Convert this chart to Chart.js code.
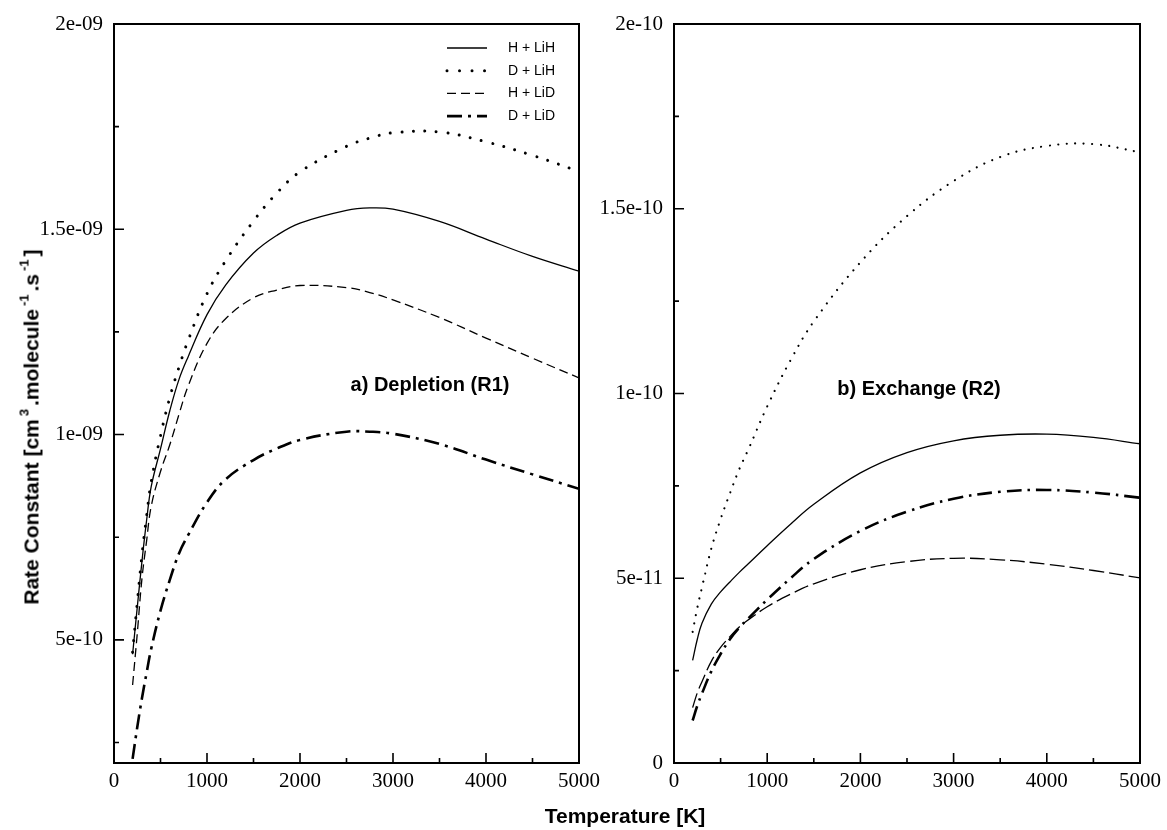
<!DOCTYPE html>
<html>
<head>
<meta charset="utf-8">
<script src="https://cdn.jsdelivr.net/npm/chart.js@4.4.1/dist/chart.umd.min.js"></script>
<style>
  html, body { margin: 0; padding: 0; background: #fff; }
  body { width: 1167px; height: 830px; position: relative; overflow: hidden; }
  canvas { position: absolute; top: 0; }
  #depletion { left: 0; }
  #exchange { left: 584px; }
  .txt {
    position: absolute;
    font-family: "Liberation Sans", Arial, sans-serif;
    font-weight: bold;
    color: #000;
    white-space: nowrap;
    line-height: 1;
    transform: translate(-50%, -50%);
  }
  .ytitle { font-size: 21px; transform: translate(-50%, -50%) rotate(-90deg); }
  .ytitle sup { font-size: 0.62em; vertical-align: 0.75em; line-height: 0; margin: 0 3px; }
  .xtitle { font-size: 21px; }
  .panel { font-size: 20px; }
</style>
</head>
<body>
<canvas id="depletion" width="606" height="830"></canvas>
<canvas id="exchange" width="583" height="830"></canvas>

<div class="txt ytitle" style="left:31px; top:427px;">Rate Constant [cm<sup>3</sup>.molecule<sup>-1</sup>.s<sup>-1</sup>]</div>
<div class="txt xtitle" style="left:625px; top:815px;">Temperature [K]</div>
<div class="txt panel" style="left:430px; top:384px;">a) Depletion (R1)</div>
<div class="txt panel" style="left:919px; top:388px;">b) Exchange (R2)</div>

<script>
// Temperatures (K)
const depTemps = [200, 250, 300, 350, 400, 500, 600, 700, 800, 1000, 1200, 1500, 1750, 2000, 2500, 2750, 3000, 3500, 4000, 4500, 5000];
const exTemps = [200, 250, 300, 400, 500, 600, 700, 800, 1000, 1250, 1500, 2000, 2500, 3000, 3500, 4000, 4500, 5000];

// (R1) depletion rate constants, in 1e-9 cm3 molecule-1 s-1
const depHLiH = [0.465, 0.579, 0.69, 0.79, 0.873, 0.965, 1.058, 1.135, 1.191, 1.292, 1.364, 1.442, 1.485, 1.515, 1.546, 1.552, 1.549, 1.519, 1.476, 1.434, 1.398];
const depDLiH = [0.47, 0.59, 0.705, 0.80, 0.885, 0.997, 1.09, 1.165, 1.231, 1.343, 1.423, 1.52, 1.588, 1.64, 1.702, 1.722, 1.735, 1.737, 1.713, 1.68, 1.641];
const depHLiD = [0.39, 0.515, 0.648, 0.74, 0.825, 0.91, 0.975, 1.05, 1.12, 1.222, 1.282, 1.333, 1.352, 1.363, 1.358, 1.346, 1.328, 1.285, 1.235, 1.186, 1.138];
const depDLiD = [0.21, 0.287, 0.357, 0.419, 0.478, 0.571, 0.646, 0.711, 0.756, 0.835, 0.891, 0.938, 0.966, 0.987, 1.007, 1.007, 1.002, 0.977, 0.939, 0.903, 0.868];

// (R2) exchange rate constants, in 1e-12 cm3 molecule-1 s-1
const exHLiH = [27.8, 33.5, 37.8, 43.0, 46.3, 49.0, 51.6, 54.0, 58.8, 64.6, 70.0, 78.5, 84.0, 87.2, 88.7, 89.0, 88.1, 86.4];
const exDLiH = [35.5, 42, 47.5, 58, 66, 73, 79.5, 85, 96.5, 109, 119.5, 135.5, 148, 157.5, 164, 167, 167.5, 165.3];
const exHLiD = [15, 19, 22, 27.5, 31.3, 34.2, 36.8, 38.8, 42.3, 45.7, 48.5, 52.3, 54.5, 55.4, 55.0, 53.8, 52.1, 50.1];
const exDLiD = [11.5, 15.5, 18.8, 24.8, 29.5, 33.5, 36.6, 39.2, 44.2, 50.0, 55.2, 62.8, 68.0, 71.5, 73.4, 73.9, 73.2, 71.8];

const seriesNames = ["H + LiH", "D + LiH", "H + LiD", "D + LiD"];

// axis ticks
const xTicks = [0, 1000, 2000, 3000, 4000, 5000];
const xTickLabels = ["0", "1000", "2000", "3000", "4000", "5000"];
const xMinor = [500, 1500, 2500, 3500, 4500];

const depYTicks = [5e-10, 1e-9, 1.5e-9, 2e-9];
const depYLabels = ["5e-10", "1e-09", "1.5e-09", "2e-09"];
const depYMinor = [2.5e-10, 7.5e-10, 1.25e-9, 1.75e-9];

const exYTicks = [0, 5e-11, 1e-10, 1.5e-10, 2e-10];
const exYLabels = ["0", "5e-11", "1e-10", "1.5e-10", "2e-10"];
const exYMinor = [2.5e-11, 7.5e-11, 1.25e-10, 1.75e-10];

const toPoints = (temps, vals, unit) => temps.map((t, i) => ({ x: t, y: vals[i] * unit }));

// box around the plot area + inward major/minor ticks
const boxTicks = {
  id: "boxTicks",
  afterDraw(chart, args, o) {
    const { ctx, chartArea: a } = chart;
    const x = chart.scales.x, y = chart.scales.y;
    ctx.save();
    ctx.strokeStyle = "#000";
    ctx.lineWidth = 1.6;
    ctx.beginPath();
    o.xMajor.forEach(v => { const p = x.getPixelForValue(v); ctx.moveTo(p, a.bottom); ctx.lineTo(p, a.bottom - 10); });
    o.xMinor.forEach(v => { const p = x.getPixelForValue(v); ctx.moveTo(p, a.bottom); ctx.lineTo(p, a.bottom - 5); });
    o.yMajor.forEach(v => { const p = y.getPixelForValue(v); ctx.moveTo(a.left, p); ctx.lineTo(a.left + 10, p); });
    o.yMinor.forEach(v => { const p = y.getPixelForValue(v); ctx.moveTo(a.left, p); ctx.lineTo(a.left + 5, p); });
    ctx.stroke();
    ctx.lineWidth = 2;
    ctx.strokeRect(a.left, a.top, a.right - a.left, a.bottom - a.top);
    ctx.restore();
  }
};

// line-style key drawn inside the plot
const lineKey = {
  id: "lineKey",
  afterDraw(chart, args, o) {
    if (!o.show) return;
    const ctx = chart.ctx;
    ctx.save();
    chart.data.datasets.forEach((ds, i) => {
      const yy = o.top + i * o.gap;
      ctx.beginPath();
      ctx.strokeStyle = "#000";
      ctx.lineWidth = ds.borderWidth;
      ctx.lineCap = ds.borderCapStyle || "butt";
      ctx.setLineDash(ds.keyDash || ds.borderDash || []);
      ctx.moveTo(o.lineLeft, yy);
      ctx.lineTo(o.lineLeft + o.lineLen, yy);
      ctx.stroke();
      ctx.setLineDash([]);
      ctx.fillStyle = "#000";
      ctx.font = '14px "Liberation Sans", Arial, sans-serif';
      ctx.textBaseline = "middle";
      ctx.fillText(ds.label, o.textLeft, yy);
    });
    ctx.restore();
  }
};

function makeChart(id, temps, series, unit, styles, yMin, yMax, yTicks, yLabels, yMinor, yWidth, padRight, showKey) {
  const datasets = series.map((vals, i) => Object.assign({
    label: seriesNames[i],
    data: toPoints(temps, vals, unit),
    borderColor: "#000",
    backgroundColor: "#000",
    pointRadius: 0,
    fill: false,
    tension: 0.4
  }, styles[i]));

  return new Chart(document.getElementById(id).getContext("2d"), {
    type: "line",
    data: { datasets },
    plugins: [boxTicks, lineKey],
    options: {
      responsive: false,
      animation: false,
      layout: { padding: { left: 0, right: padRight, top: 24, bottom: 0 } },
      scales: {
        x: {
          type: "linear",
          min: 0,
          max: 5000,
          afterBuildTicks: s => { s.ticks = xTicks.map(v => ({ value: v })); },
          afterFit: s => { s.height = 67; },
          grid: { display: false, drawTicks: false },
          border: { display: false },
          ticks: {
            padding: 6,
            color: "#000",
            font: { family: "'Liberation Serif', 'Times New Roman', serif", size: 21 },
            maxRotation: 0,
            autoSkip: false,
            callback: (v, i) => xTickLabels[i]
          }
        },
        y: {
          type: "linear",
          min: yMin,
          max: yMax,
          afterBuildTicks: s => { s.ticks = yTicks.map(v => ({ value: v })); },
          afterFit: s => { s.width = yWidth; },
          grid: { display: false, drawTicks: false },
          border: { display: false },
          ticks: {
            padding: 11,
            color: "#000",
            font: { family: "'Liberation Serif', 'Times New Roman', serif", size: 21 },
            autoSkip: false,
            callback: (v, i) => yLabels[i]
          }
        }
      },
      plugins: {
        legend: { display: false },
        tooltip: { enabled: false },
        boxTicks: { xMajor: xTicks, xMinor: xMinor, yMajor: yTicks, yMinor: yMinor },
        lineKey: { show: showKey, top: 48, gap: 22.7, lineLeft: 447, lineLen: 40, textLeft: 508 }
      }
    }
  });
}

// Depletion panel
makeChart("depletion", depTemps, [depHLiH, depDLiH, depHLiD, depDLiD], 1e-9, [
  { borderWidth: 1.3 },
  { borderWidth: 3, borderDash: [0.01, 11.5], borderCapStyle: "round", keyDash: [0.01, 12.5] },
  { borderWidth: 1.3, borderDash: [9, 5] },
  { borderWidth: 2.6, borderDash: [15, 6, 3, 6] }
], 2e-10, 2e-9, depYTicks, depYLabels, depYMinor, 114, 23, true);

// Exchange panel
makeChart("exchange", exTemps, [exHLiH, exDLiH, exHLiD, exDLiD], 1e-12, [
  { borderWidth: 1.3 },
  { borderWidth: 2.2, borderDash: [0.01, 8.5], borderCapStyle: "round" },
  { borderWidth: 1.3, borderDash: [15, 5] },
  { borderWidth: 2.6, borderDash: [15, 6, 2.5, 6] }
], 0, 2e-10, exYTicks, exYLabels, exYMinor, 90, 26, false);
</script>
</body>
</html>
